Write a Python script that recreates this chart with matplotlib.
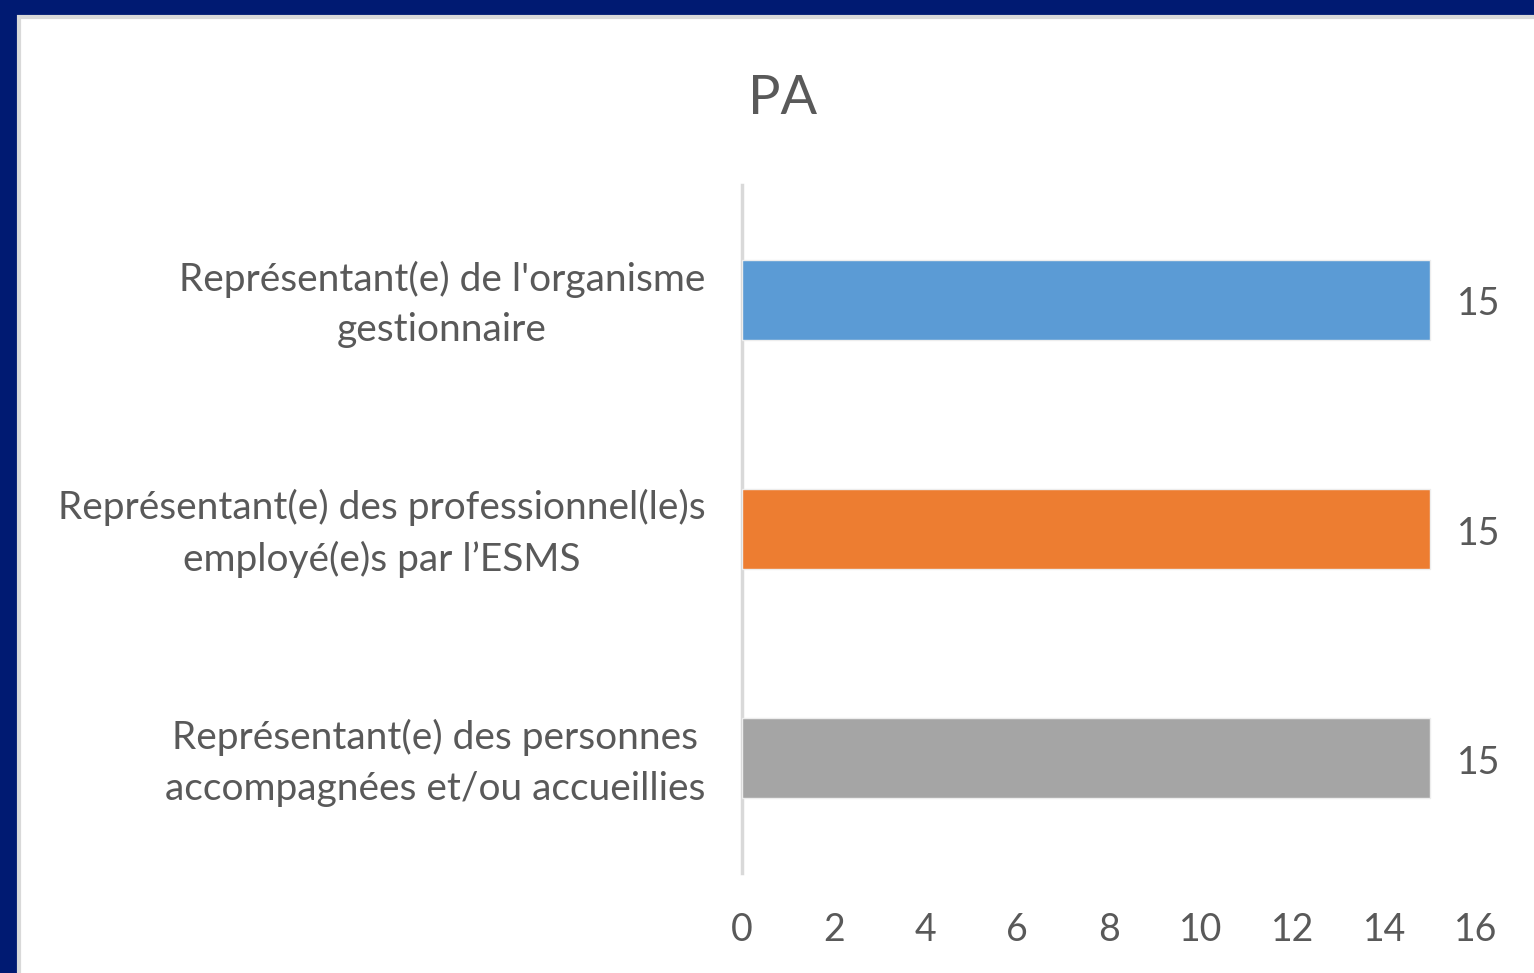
import matplotlib.pyplot as plt
from matplotlib.patches import Rectangle

categories = ["Représentant(e) des personnes\naccompagnées et/ou accueillies",
              "Représentant(e) des professionnel(le)s\nemployé(e)s par l\u2019ESMS",
              "Représentant(e) de l'organisme\ngestionnaire"]
values = [15, 15, 15]
colors = ["#A5A5A5", "#ED7D31", "#5B9BD5"]
xticks = [0, 2, 4, 6, 8, 10, 12, 14, 16]

plt.rcParams['font.family'] = ['Lato', 'DejaVu Sans']
text_col = "#595959"

W, H = 1534, 973
fig = plt.figure(figsize=(W / 100, H / 100), dpi=100)
fig.patch.set_facecolor("#001A72")

# white chart area inside the navy frame (edge only shows top/left)
fig.patches.append(Rectangle((19 / W, -0.05), 1.1, 1.05 - 17 / H, transform=fig.transFigure,
                             facecolor="white", edgecolor="#D9D9D9", linewidth=3, zorder=-5))

ax = fig.add_axes([742 / W, 1 - 873 / H, (1476 - 742) / W, (873 - 185) / H])
ax.set_facecolor("none")
ax.set_zorder(2)

ypos = list(range(len(categories)))
bars = ax.barh(ypos, values, height=0.35, color=colors, edgecolor="#EDEDED", linewidth=1, zorder=3)
ax.set_ylim(-0.5, 2.5)
ax.set_xlim(0, 16)
ax.set_xticks(xticks)
ax.set_xticklabels([str(t) for t in xticks])
ax.set_yticks([])

# category labels: block right-aligned, lines centred
for y, cat in zip(ypos, categories):
    ax.text(-0.05, y - 0.02, cat, transform=ax.get_yaxis_transform(), ha="right", va="center",
            multialignment="center", linespacing=1.5, fontsize=28, color=text_col)

ax.tick_params(axis="x", length=0, pad=28, labelsize=27, labelcolor=text_col)

for s in ["top", "right", "bottom"]:
    ax.spines[s].set_visible(False)
ax.spines["left"].set_color("#D9D9D9")
ax.spines["left"].set_linewidth(2.5)

for b, v in zip(bars, values):
    ax.text(b.get_width() + 0.58, b.get_y() + b.get_height() / 2 - 0.02, str(v),
            va="center", ha="left", fontsize=27, color=text_col)

fig.text(783 / W, 1 - 114 / H, "PA", ha="center", va="baseline", fontsize=39, color=text_col)

fig.savefig("out.png", dpi=100, facecolor=fig.get_facecolor())
